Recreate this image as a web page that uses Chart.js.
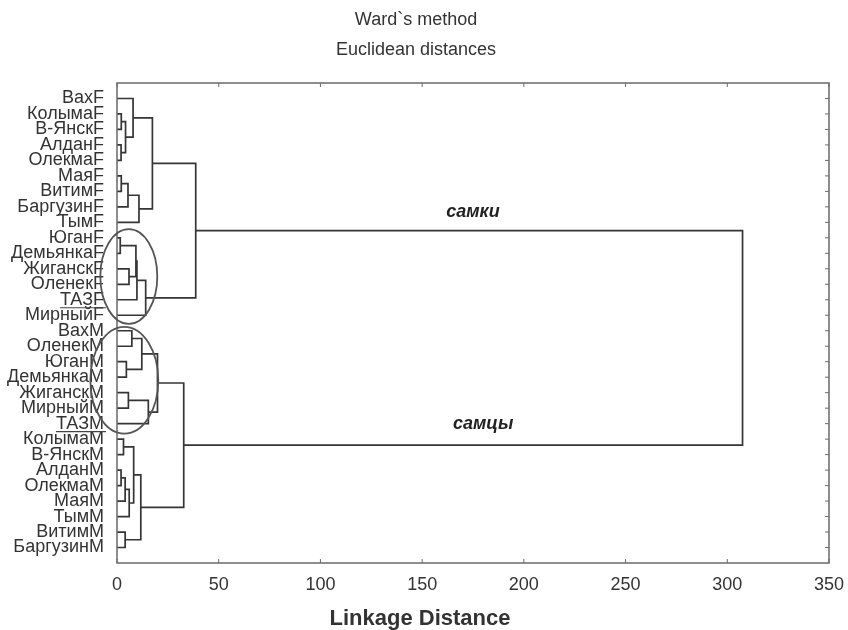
<!DOCTYPE html>
<html>
<head>
<meta charset="utf-8">
<script src="https://cdn.jsdelivr.net/npm/chart.js@4.4.1/dist/chart.umd.min.js"></script>
<style>
  html, body { margin: 0; padding: 0; background: #fff; }
</style>
</head>
<body>
<canvas id="dendro" width="848" height="630"></canvas>
<script>
// leaves, top to bottom
const leaves = [
  'ВахF', 'КолымаF', 'В-ЯнскF', 'АлданF', 'ОлекмаF', 'МаяF', 'ВитимF', 'БаргузинF',
  'ТымF', 'ЮганF', 'ДемьянкаF', 'ЖиганскF', 'ОленекF', 'ТАЗF', 'МирныйF',
  'ВахM', 'ОленекM', 'ЮганM', 'ДемьянкаM', 'ЖиганскM', 'МирныйM', 'ТАЗM',
  'КолымаM', 'В-ЯнскM', 'АлданM', 'ОлекмаM', 'МаяM', 'ТымM', 'ВитимM', 'БаргузинM'
];

// merges in order; ids 0..29 are leaves, merge k becomes node 30+k
const mergeLeft   = [1, 3, 30, 0, 5, 34, 35, 33, 9, 11, 38, 40, 41, 37,
                     15, 17, 44, 19, 47, 46, 22, 24, 51, 52, 50, 28, 54, 49, 43];
const mergeRight  = [2, 4, 31, 32, 6, 7, 8, 36, 10, 12, 39, 13, 14, 42,
                     16, 18, 45, 20, 21, 48, 23, 25, 26, 27, 53, 29, 55, 56, 57];
const mergeHeight = [2.1, 2.0, 4.2, 7.9, 2.1, 5.4, 10.8, 17.4, 1.6, 5.9, 9.3, 9.8, 14.1, 38.7,
                     7.3, 4.6, 12.2, 5.6, 15.4, 19.9, 3.2, 2.0, 4.0, 6.0, 8.2, 4.0, 11.7, 32.8, 307.5];

const xTicks = [0, 50, 100, 150, 200, 250, 300, 350];

const FONT = 'Liberation Sans, Arial, Helvetica, sans-serif';
const INK = '#333';

// node positions: leaves sit at 1..30, a cluster halfway between its children
const nodeY = leaves.map((_, i) => i + 1);
const nodeH = leaves.map(() => 0);
const links = mergeHeight.map((h, k) => {
  const a = mergeLeft[k], b = mergeRight[k];
  nodeY.push((nodeY[a] + nodeY[b]) / 2);
  nodeH.push(h);
  return {
    data: [
      { x: nodeH[a], y: nodeY[a] },
      { x: h, y: nodeY[a] },
      { x: h, y: nodeY[b] },
      { x: nodeH[b], y: nodeY[b] }
    ],
    showLine: true, borderColor: '#353535', borderWidth: 1.7,
    pointRadius: 0, tension: 0, fill: false
  };
});

// frame, inner ticks, ellipses and the text notes
const decor = {
  id: 'decor',
  afterDatasetsDraw(chart, args, opts) {
    const { ctx, chartArea: a, scales: { x, y } } = chart;
    ctx.save();

    // frame
    ctx.strokeStyle = '#6a6a6a';
    ctx.lineWidth = 1.5;
    ctx.strokeRect(a.left, a.top, a.right - a.left, a.bottom - a.top);

    // inward ticks
    ctx.lineWidth = 1;
    ctx.beginPath();
    xTicks.forEach(v => {
      const px = x.getPixelForValue(v);
      ctx.moveTo(px, a.bottom); ctx.lineTo(px, a.bottom - 4);
      ctx.moveTo(px, a.top); ctx.lineTo(px, a.top + 4);
    });
    leaves.forEach((_, i) => {
      const py = y.getPixelForValue(i + 1);
      ctx.moveTo(a.right, py); ctx.lineTo(a.right - 4, py);
    });
    ctx.stroke();

    // ellipses round the mixed groups
    ctx.strokeStyle = '#555';
    ctx.lineWidth = 1.8;
    opts.ellipses.forEach(e => {
      const cx = x.getPixelForValue(e.cx), cy = y.getPixelForValue(e.cy);
      const rx = x.getPixelForValue(e.cx + e.rx) - cx;
      const ry = y.getPixelForValue(e.cy + e.ry) - cy;
      ctx.beginPath();
      ctx.ellipse(cx, cy, rx, Math.abs(ry), 0, 0, Math.PI * 2);
      ctx.stroke();
    });

    // group notes above the long branches
    ctx.fillStyle = '#222';
    ctx.font = 'italic bold 18px ' + FONT;
    ctx.textAlign = 'center';
    ctx.textBaseline = 'middle';
    opts.notes.forEach(n => {
      ctx.fillText(n.text, x.getPixelForValue(n.at), y.getPixelForValue(nodeY[n.node]) + n.dy);
    });

    // underlined labels
    ctx.font = '18px ' + FONT;
    ctx.strokeStyle = '#444';
    ctx.lineWidth = 1.2;
    opts.underline.forEach(name => {
      const i = leaves.indexOf(name);
      const w = ctx.measureText(name).width;
      const py = y.getPixelForValue(i + 1) + 8;
      ctx.beginPath();
      ctx.moveTo(a.left - 13 - w, py); ctx.lineTo(a.left - 11, py);
      ctx.stroke();
    });

    // titles
    ctx.fillStyle = INK;
    ctx.font = '18px ' + FONT;
    ctx.fillText('Ward`s method', 416, 20);
    ctx.fillText('Euclidean distances', 416, 50);
    ctx.font = 'bold 22px ' + FONT;
    ctx.fillText('Linkage Distance', 420, 619);
    ctx.restore();
  }
};

new Chart(document.getElementById('dendro'), {
  type: 'scatter',
  data: { datasets: links },
  options: {
    responsive: false,
    animation: false,
    devicePixelRatio: 1,
    layout: { padding: { top: 83, right: 19, left: 0, bottom: 0 } },
    scales: {
      x: {
        type: 'linear', min: 0, max: 350,
        grid: { display: false, drawTicks: false },
        border: { display: false },
        ticks: { stepSize: 50, padding: 11, color: INK, font: { family: FONT, size: 18 } },
        afterBuildTicks: s => { s.ticks = xTicks.map(v => ({ value: v })); },
        afterFit: s => { s.height = 67; s.paddingLeft = 0; s.paddingRight = 0; }
      },
      y: {
        type: 'linear', min: 0, max: 31, reverse: true,
        grid: { display: false, drawTicks: false },
        border: { display: false },
        ticks: {
          autoSkip: false, padding: 13, color: INK, font: { family: FONT, size: 18 },
          callback: v => leaves[v - 1] || ''
        },
        afterBuildTicks: s => { s.ticks = leaves.map((_, i) => ({ value: i + 1 })); },
        afterFit: s => { s.width = 117; s.paddingTop = 0; s.paddingBottom = 0; }
      }
    },
    plugins: {
      legend: { display: false },
      tooltip: { enabled: false },
      decor: {
        ellipses: [
          { cx: 5.8, cy: 12.5, rx: 14.0, ry: 3.06 },
          { cx: 3.6, cy: 19.2, rx: 16.7, ry: 3.45 }
        ],
        notes: [
          { text: 'самки', at: 175, node: 43, dy: -19 },
          { text: 'самцы', at: 180, node: 57, dy: -21 }
        ],
        underline: ['ТАЗF', 'ТАЗM']
      }
    }
  },
  plugins: [decor]
});
</script>
</body>
</html>
